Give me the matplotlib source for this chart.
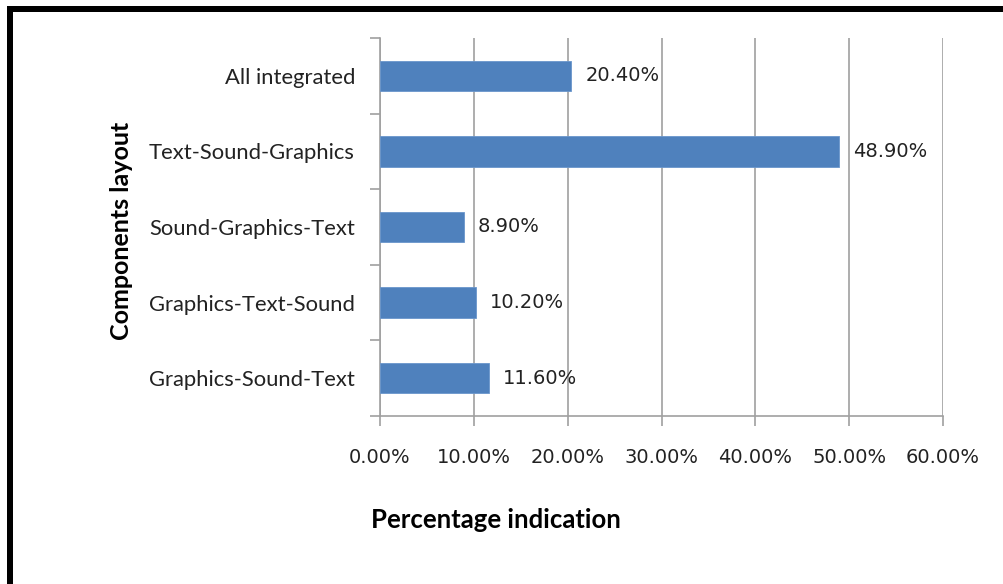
import matplotlib
matplotlib.use("Agg")
import matplotlib.pyplot as plt
from matplotlib.ticker import FixedLocator, FuncFormatter
from matplotlib.patches import Rectangle

# Component layout categories, bottom to top
categories = ["Graphics-Sound-Text", "Graphics-Text-Sound", "Sound-Graphics-Text",
              "Text-Sound-Graphics", "All integrated"]
percentages = [11.6, 10.2, 8.9, 48.9, 20.4]
x_ticks = [0, 10, 20, 30, 40, 50, 60]

BAR_COLOR = "#4F81BD"
GRID_COLOR = "#A0A0A0"
LABEL_FONT = ["Lato", "DejaVu Sans"]
NUM_FONT = ["DejaVu Sans"]

W, H = 1004, 584
fig = plt.figure(figsize=(W / 100, H / 100), dpi=100)
fig.patch.set_facecolor("white")
ax = fig.add_axes([380 / W, 1 - 416 / H, (943 - 380) / W, (416 - 38) / H])

ypos = list(range(len(categories)))
ax.barh(ypos, percentages, height=0.4, color=BAR_COLOR, edgecolor="#6A96CC",
        linewidth=0.6, zorder=3)

for y, v in zip(ypos, percentages):
    ax.annotate(f"{v:.2f}%", xy=(v, y), xytext=(10, 0), textcoords="offset points",
                ha="left", va="center", fontsize=14, family=NUM_FONT, color="#222222")

ax.set_xlim(0, 60)
ax.set_ylim(-0.5, len(categories) - 0.5)

ax.xaxis.set_major_locator(FixedLocator(x_ticks))
ax.xaxis.set_major_formatter(FuncFormatter(lambda v, _: f"{v:.2f}%"))
ax.tick_params(axis="x", direction="out", length=7, width=1.2, color=GRID_COLOR,
               pad=16, labelsize=14, labelcolor="#222222")
for lab in ax.get_xticklabels():
    lab.set_family(NUM_FONT)

ax.set_yticks(ypos)
ax.set_yticklabels(categories, family=LABEL_FONT, fontsize=15.8, color="#222222")
ax.tick_params(axis="y", which="major", length=0, pad=18)
ax.yaxis.set_minor_locator(FixedLocator([i - 0.5 for i in range(len(categories) + 1)]))
ax.tick_params(axis="y", which="minor", direction="out", length=7, width=1.2,
               color=GRID_COLOR)

ax.grid(axis="x", color=GRID_COLOR, linewidth=1.2, zorder=0)
ax.set_axisbelow(True)
for side in ("top", "right"):
    ax.spines[side].set_visible(False)
for side in ("left", "bottom"):
    ax.spines[side].set_color(GRID_COLOR)
    ax.spines[side].set_linewidth(1.2)

ax.set_xlabel("Percentage indication", family=LABEL_FONT, fontsize=18.5,
              fontweight="bold", color="black")
ax.xaxis.set_label_coords(0.206, -0.2434)
ax.set_ylabel("Components layout", family=LABEL_FONT, fontsize=18,
              fontweight="bold", color="black")
ax.yaxis.set_label_coords(-0.4387, 0.4894)

# Heavy frame along the left and top edges
fig.add_artist(Rectangle((7 / W, 0), 6 / W, 1 - 6 / H,
                         transform=fig.transFigure, color="black", lw=0))
fig.add_artist(Rectangle((7 / W, 1 - 12 / H), 1, 6 / H,
                         transform=fig.transFigure, color="black", lw=0))

fig.savefig("out.png", dpi=100, facecolor="white")
